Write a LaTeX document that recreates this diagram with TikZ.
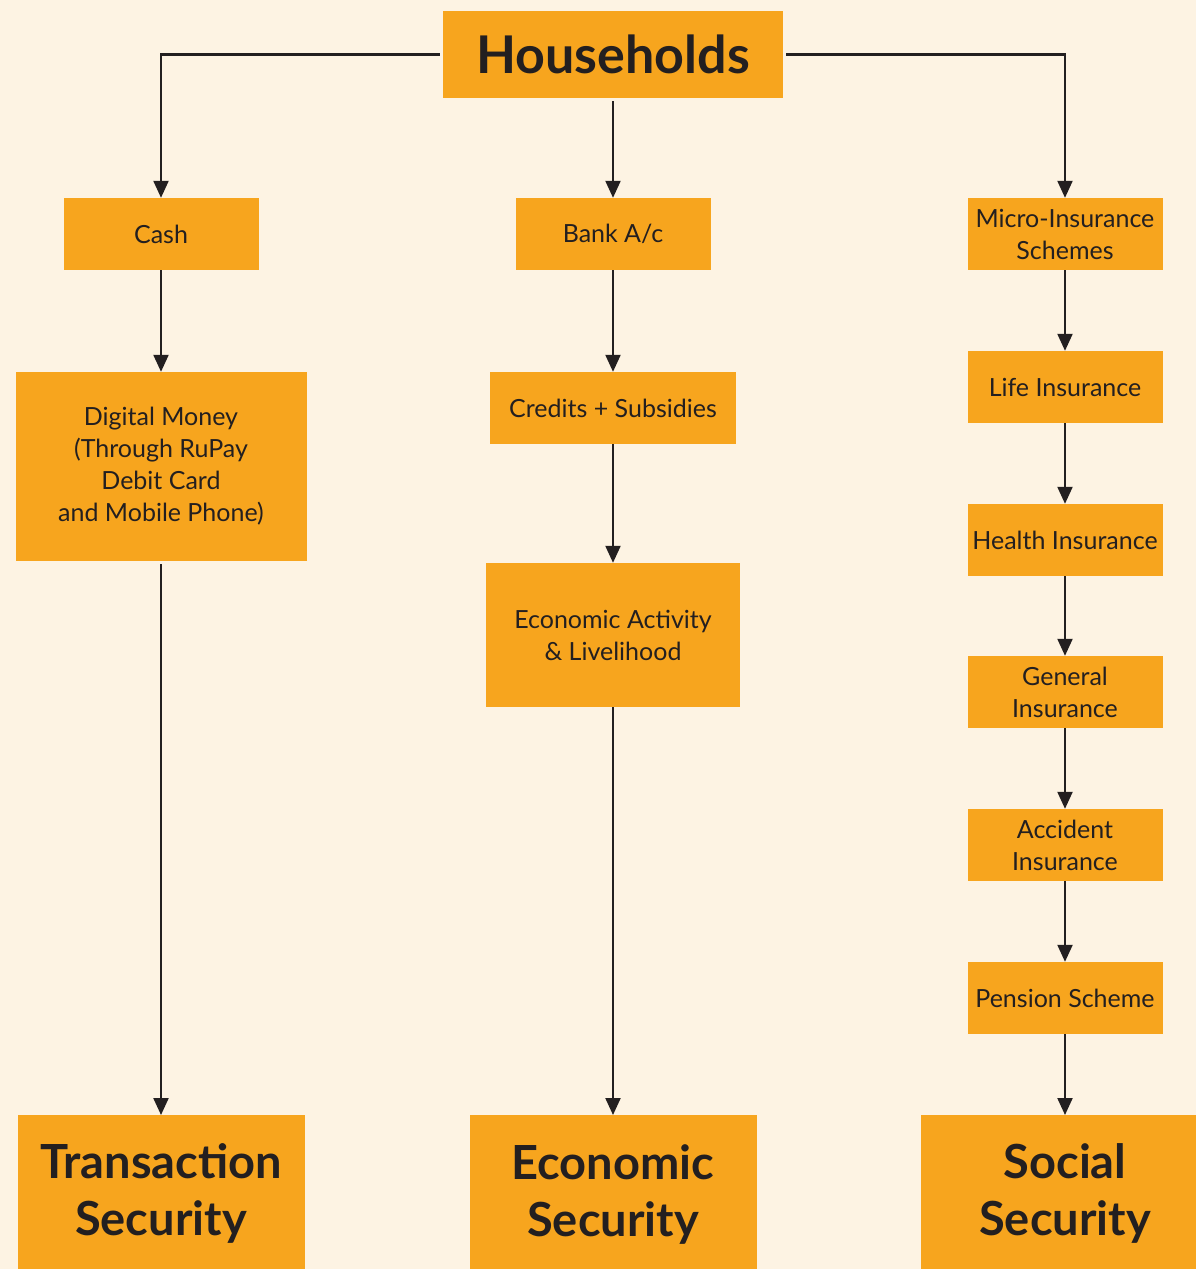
\documentclass[tikz,border=0pt]{standalone}
\usepackage{fontspec}
\setmainfont{Lato}
\usetikzlibrary{arrows.meta}
\definecolor{bg}{HTML}{FDF3E3}
\definecolor{boxc}{HTML}{F7A51E}
\definecolor{ink}{HTML}{231F20}
\begin{document}
\begin{tikzpicture}[x=1pt,y=-1pt,
  box/.style={fill=boxc,draw=none,inner sep=0pt,align=center,text=ink,
    font=\fontsize{25}{32}\selectfont},
  bigbox/.style={box,font=\fontsize{46}{57}\selectfont\bfseries},
  bigtext/.style={text=ink,align=center,font=\fontsize{47}{57}\selectfont\bfseries},
  conn/.style={draw=ink,line width=2.2pt,-{Triangle[width=15pt,length=17pt]}}]
\fill[bg] (0,0) rectangle (1196,1269);
\useasboundingbox (0,0) rectangle (1196,1269);
% top
\node[box,minimum width=340pt,minimum height=87pt,font=\fontsize{52}{60}\selectfont\bfseries] (hh) at (613,54.5) {Households};
% left column
\node[box,minimum width=195pt,minimum height=72pt] (cash) at (161,234) {Cash};
\node[box,minimum width=291pt,minimum height=189pt] (dig) at (161,466.5) {Digital Money\\(Through RuPay\\Debit Card\\and Mobile Phone)};
\node[bigbox,minimum width=287pt,minimum height=154pt,anchor=north] (ts) at (161,1115) {};
\node[bigtext] (tst) at (161,1193) {Transaction\\Security};
% middle column
\node[box,minimum width=195pt,minimum height=72pt] (bank) at (613,234) {Bank A/c};
\node[box,minimum width=246pt,minimum height=72pt] (cred) at (613,408) {Credits + Subsidies};
\node[box,minimum width=254pt,minimum height=144pt] (eco) at (613,635) {Economic Activity\\\& Livelihood};
\node[bigbox,minimum width=287pt,minimum height=154pt,anchor=north] (es) at (613,1115) {};
\node[bigtext] (est) at (613,1194) {Economic\\Security};
% right column
\node[box,minimum width=195pt,minimum height=72pt] (micro) at (1065,234) {Micro-Insurance\\Schemes};
\node[box,minimum width=195pt,minimum height=72pt] (life) at (1065,387) {Life Insurance};
\node[box,minimum width=195pt,minimum height=72pt] (health) at (1065,540) {Health Insurance};
\node[box,minimum width=195pt,minimum height=72pt] (gen) at (1065,692) {General\\Insurance};
\node[box,minimum width=195pt,minimum height=72pt] (acc) at (1065,845) {Accident\\Insurance};
\node[box,minimum width=195pt,minimum height=72pt] (pen) at (1065,998) {Pension Scheme};
\node[bigbox,minimum width=275pt,minimum height=154pt,anchor=north] (ss) at (1058.5,1115) {};
\node[bigtext] (sst) at (1065,1193) {Social\\Security};
% connectors
\draw[conn,shorten <=3pt] (hh.west) -| (cash.north);
\draw[conn,shorten <=3pt] (hh.east) -| (micro.north);
\draw[conn,shorten <=3pt] (hh.south) -- (bank.north);
\draw[conn] (cash) -- (dig);
\draw[conn,shorten <=3pt] (dig.south) -- (ts.north);
\draw[conn] (bank) -- (cred);
\draw[conn] (cred) -- (eco);
\draw[conn] (eco) -- (es.north);
\draw[conn] (micro) -- (life);
\draw[conn] (life) -- (health);
\draw[conn] (health) -- (gen);
\draw[conn] (gen) -- (acc);
\draw[conn] (acc) -- (pen);
\draw[conn] (pen) -- (ss.north -| pen.south);
\end{tikzpicture}
\end{document}
